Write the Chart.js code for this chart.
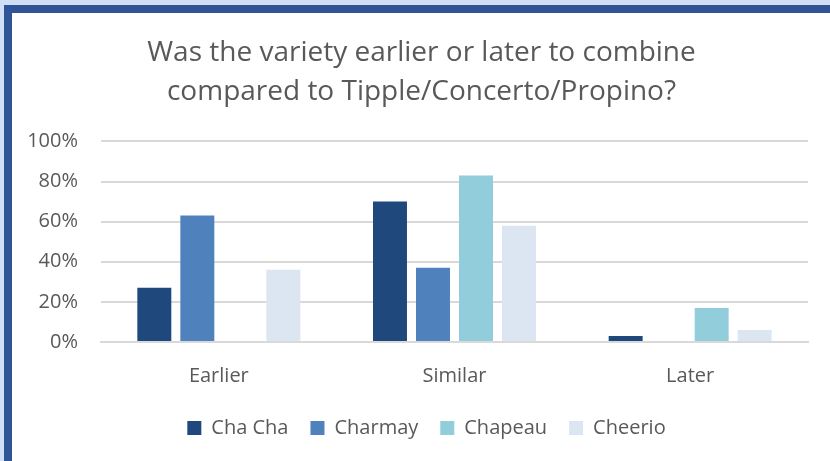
<!DOCTYPE html>
<html>
<head>
<meta charset="utf-8">
<script src="https://cdn.jsdelivr.net/npm/chart.js@4/dist/chart.umd.min.js"></script>
<style>
  html, body { margin: 0; padding: 0; }
  body { width: 830px; height: 461px; background: #cfe0f7; position: relative; overflow: hidden; }
  #frame { position: absolute; left: 4px; top: 5px; width: 840px; height: 470px;
           border-top: 8px solid #2f5597; border-left: 8px solid #2f5597; background: #fff; }
  #wrap { position: absolute; left: 0; top: 0; width: 830px; height: 461px; }
</style>
</head>
<body>
<div id="frame"></div>
<div id="wrap"><canvas id="graph"></canvas></div>
<script>
// datos del grafico
var categorias = ["Earlier", "Similar", "Later"];
var chaCha = [27, 70, 3];
var charmay = [63, 37, 0];
var chapeau = [0, 83, 17];
var cheerio = [36, 58, 6];
var ticksY = [0, 20, 40, 60, 80, 100];

var fuente = "'Open Sans', 'Noto Sans', sans-serif";
var gris = "#595959";

// mover titulo y leyenda un poco a la derecha, como en el original
var moverCajas = {
    id: "moverCajas",
    afterLayout: function(chart) {
        chart.titleBlock.left += 11;
        chart.titleBlock.right += 11;
        chart.legend.left += 16;
        chart.legend.right += 16;
    }
};

document.addEventListener("DOMContentLoaded", function() {
    var ctx = document.getElementById("graph").getContext("2d");

    var chart = new Chart(ctx, {
        type: "bar",
        data: {
            labels: categorias,
            datasets: [
                { label: "Cha Cha", data: chaCha, backgroundColor: "#1f497d" },
                { label: "Charmay", data: charmay, backgroundColor: "#4f81bd" },
                { label: "Chapeau", data: chapeau, backgroundColor: "#92cddc" },
                { label: "Cheerio", data: cheerio, backgroundColor: "#dce6f2" }
            ]
        },
        options: {
            responsive: true,
            maintainAspectRatio: false,
            animation: false,
            datasets: {
                bar: { categoryPercentage: 0.73, barPercentage: 0.79 }
            },
            layout: { padding: { left: 13, right: 22, top: 33, bottom: 13 } },
            plugins: {
                title: {
                    display: true,
                    text: ["Was the variety earlier or later to combine", "compared to Tipple/Concerto/Propino?"],
                    color: gris,
                    font: { family: fuente, size: 28, weight: "normal", lineHeight: 1.4 },
                    padding: { top: 0, bottom: 30 }
                },
                legend: {
                    position: "bottom",
                    labels: {
                        color: gris,
                        font: { family: fuente, size: 20 },
                        boxWidth: 14,
                        boxHeight: 14,
                        padding: 22
                    }
                },
                tooltip: { enabled: false }
            },
            scales: {
                x: {
                    grid: { display: false, drawTicks: false },
                    border: { display: true, color: "#d9d9d9", width: 2 },
                    ticks: { color: gris, font: { family: fuente, size: 20 }, padding: 22 },
                    afterFit: function(axis) { axis.height = 54; }
                },
                y: {
                    min: 0,
                    max: 100,
                    afterBuildTicks: function(axis) {
                        axis.ticks = ticksY.map(function(v) { return { value: v }; });
                    },
                    afterFit: function(axis) { axis.width = 88; },
                    grid: { color: "#d9d9d9", lineWidth: 2, drawTicks: false },
                    border: { display: false },
                    ticks: {
                        color: gris,
                        font: { family: fuente, size: 20 },
                        padding: 23,
                        callback: function(v) { return v + "%"; }
                    }
                }
            }
        },
        plugins: [moverCajas]
    });
});
</script>
</body>
</html>
